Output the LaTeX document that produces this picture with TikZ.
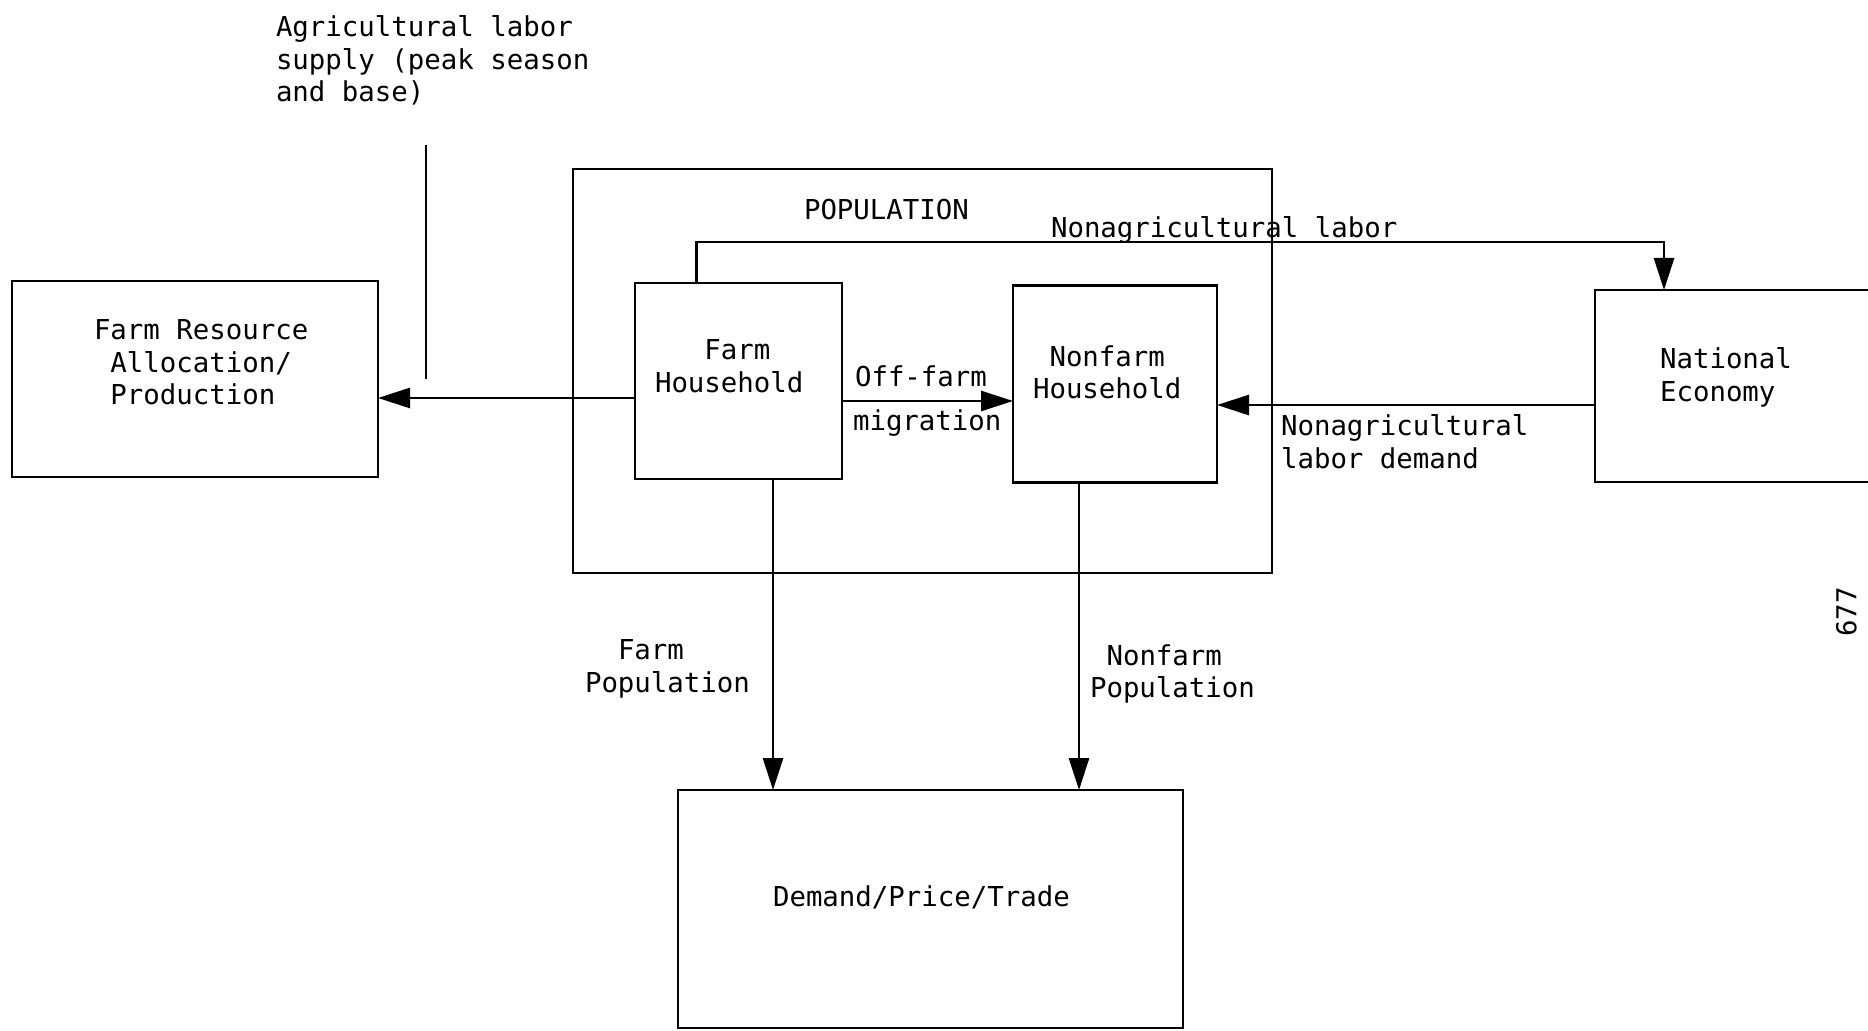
\documentclass[tikz,border=0pt]{standalone}
\usepackage{fontspec}
\setmonofont{DejaVu Sans Mono}
\usetikzlibrary{arrows.meta}
\begin{document}
\begin{tikzpicture}[x=0.5pt,y=-0.5pt,
  every node/.style={font=\ttfamily\fontsize{13.7pt}{16.3pt}\selectfont, inner sep=0pt, outer sep=0pt},
  box/.style={draw, line width=1.4pt, rectangle},
  wire/.style={line width=1.4pt},
  arr/.style={wire, -{Triangle[length=16pt,width=10pt]}},
  lbl/.style={align=left, anchor=north west},
  one/.style={anchor=base west},
]
\useasboundingbox (0,0) rectangle (1868,1031);
\clip (0,0) rectangle (1868,1031);

% blocks
\node[box, minimum width=349.5pt, minimum height=202pt] (pop) at (922.5,371) {};
\node[box, minimum width=183pt, minimum height=98pt] (res) at (195,379) {};
\node[box, minimum width=103.5pt, minimum height=98pt] (farmhh) at (738.5,381) {};
\node[box, minimum width=102pt, minimum height=98.5pt] (nonfarmhh) at (1115,384) {};
\node[box, minimum width=160pt, minimum height=96pt] (natl) at (1755,386) {};
\node[box, minimum width=252.5pt, minimum height=119pt] (dpt) at (930.5,909) {};

% block texts
\node[lbl] (resT) at (94,319.5) {Farm Resource\\\hphantom{0}Allocation/\\\hphantom{0}Production};
\node[lbl] (farmhhT) at (655,340) {\hphantom{000}Farm\\Household};
\node[lbl] (nonfarmhhT) at (1033,345.5) {\hphantom{0}Nonfarm\\Household};
\node[lbl] (natlT) at (1660,348) {National\\Economy};
\node[one] (dptT) at (773,906) {Demand/Price/Trade};
\node[one] (popT) at (804,220) {POPULATION};

% flow labels
\node[lbl] (agT) at (276,15.5) {Agricultural labor\\supply (peak season\\and base)};
\node[one] (nonaglabT) at (1051,238) {Nonagricultural labor};
\node[one] (offT) at (855,387) {Off-farm};
\node[one] (migT) at (853,431) {migration};
\node[lbl] (nonagdemT) at (1281,414.5) {Nonagricultural\\labor demand};
\node[lbl] (farmpopT) at (585,639.5) {\hphantom{00}Farm\\Population};
\node[lbl] (nonfarmpopT) at (1090,644.5) {\hphantom{0}Nonfarm\\Population};
\node[rotate=90, anchor=north] (pageno) at (1836,612) {677};

% labour supply marker
\coordinate (agtop) at (426,145);
\coordinate (agbot) at (426,379);
\draw[line width=1.1pt] (agtop) -- (agbot);

% connectors
\draw[arr] ([yshift=-8.5pt]farmhh.west) -- ([yshift=-8.5pt]farmhh.west -| res.east);
\draw[arr] ([yshift=-10pt]farmhh.east) -- ([yshift=-10pt]farmhh.east -| nonfarmhh.west);
\draw[arr] ([yshift=-9.5pt]natl.west) -- ([yshift=-9.5pt]natl.west -| nonfarmhh.east);
\draw[arr] ([xshift=-21pt]farmhh.north) |- ([xshift=-45.5pt,yshift=24pt]natl.north) -- ([xshift=-45.5pt]natl.north);
\draw[arr] ([xshift=17.25pt]farmhh.south) -- ([xshift=17.25pt]farmhh.south |- dpt.north);
\draw[arr] ([xshift=-18pt]nonfarmhh.south) -- ([xshift=-18pt]nonfarmhh.south |- dpt.north);
\end{tikzpicture}
\end{document}
